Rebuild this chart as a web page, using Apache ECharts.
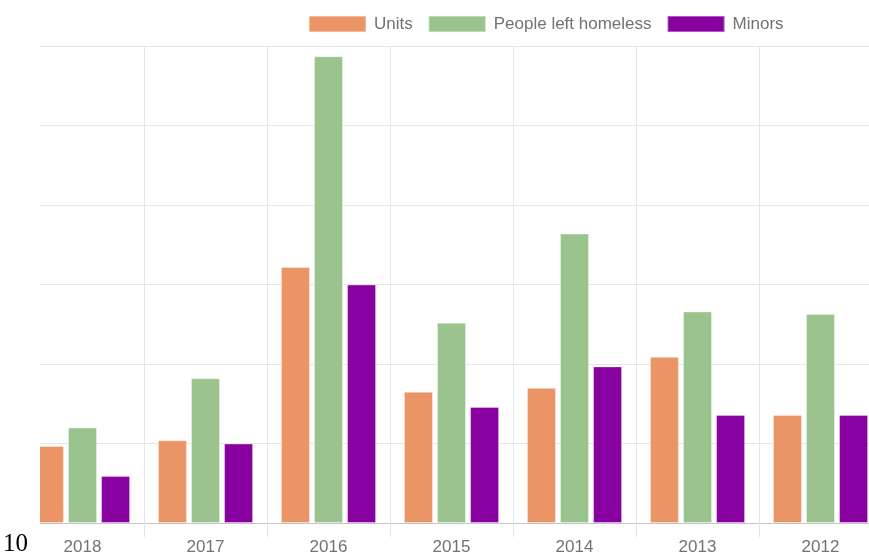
<!DOCTYPE html>
<html>
<head>
<meta charset="UTF-8">
<title>Evictions</title>
<style>
  html, body { margin: 0; padding: 0; background: #fff; overflow: hidden; }
  /* wider than the window: the plot is cut off at the right edge, as in the original */
  #chart { width: 882px; height: 556px; }
</style>
</head>
<body>
<div id="chart"></div>
<script src="https://cdn.jsdelivr.net/npm/echarts@6/dist/echarts.min.js"></script>
<script>
var years = ['2018', '2017', '2016', '2015', '2014', '2013', '2012'];
var units = [9.7, 10.4, 32.2, 16.5, 17.0, 20.9, 13.6];
var homeless = [12.0, 18.2, 58.7, 25.2, 36.4, 26.6, 26.3];
var minors = [5.9, 10.0, 30.0, 14.6, 19.7, 13.6, 13.6];
var seriesNames = ['Units', 'People left homeless', 'Minors'];
var colors = ['#eb9466', '#9bc38d', '#8800a0'];

var chart = echarts.init(document.getElementById('chart'));

function bar(name, data, color) {
  return {
    name: name,
    type: 'bar',
    data: data,
    barWidth: 29,
    barGap: '14%',
    itemStyle: { color: color, borderColor: 'rgba(255,255,255,0.35)', borderWidth: 1 },
    emphasis: { disabled: true }
  };
}

chart.setOption({
  animation: false,
  color: colors,
  legend: {
    data: seriesNames,
    left: 303,
    top: 10,
    itemWidth: 57,
    itemHeight: 16,
    itemGap: 15,
    icon: 'rect',
    textStyle: { color: '#727272', fontSize: 17, fontFamily: 'Liberation Sans', padding: [0, 0, 0, 3] }
  },
  grid: { left: 21, right: 0, top: 46, bottom: 32 },
  xAxis: {
    type: 'category',
    data: years,
    axisLine: { lineStyle: { color: '#c4c4c4' } },
    axisTick: { show: true, length: 14, lineStyle: { color: '#e3e3e3' } },
    splitLine: { show: true, lineStyle: { color: '#e6e6e6' } },
    axisLabel: { color: '#727272', fontSize: 17, fontFamily: 'Liberation Sans', margin: 16 }
  },
  yAxis: {
    type: 'value',
    min: 0,
    max: 60,
    interval: 10,
    axisLabel: { show: false },
    axisLine: { show: false },
    axisTick: { show: false },
    splitLine: { lineStyle: { color: '#e6e6e6' } }
  },
  series: [
    bar(seriesNames[0], units, colors[0]),
    bar(seriesNames[1], homeless, colors[1]),
    bar(seriesNames[2], minors, colors[2])
  ],
  graphic: [
    {
      type: 'rect',
      left: 0,
      top: 40,
      z: 100,
      shape: { width: 40, height: 500 },
      style: { fill: '#fff' }
    },
    {
      type: 'text',
      left: 3,
      top: 532,
      z: 101,
      style: { text: '10', font: '25px "Liberation Serif"', fill: '#000' }
    }
  ]
});
</script>
</body>
</html>
